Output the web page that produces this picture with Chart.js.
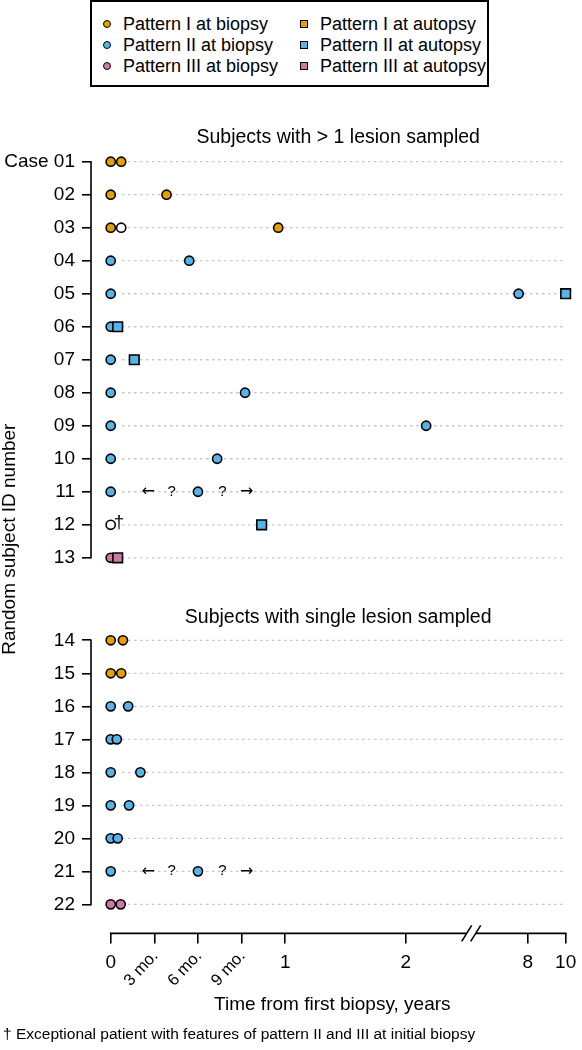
<!DOCTYPE html>
<html>
<head>
<meta charset="utf-8">
<title>Lesion patterns by subject</title>
<script src="https://cdn.jsdelivr.net/npm/chart.js@4.4.1/dist/chart.umd.min.js"></script>
<style>
  body { margin: 0; background: #fff; }
  #wrap { position: relative; width: 582px; height: 1050px; }
  #legend {
    position: absolute; left: 90px; top: 0; width: 399px; height: 87px;
    box-sizing: border-box; border: 2px solid #000; background: #fff;
    padding: 11.5px 0 0 11px;
    display: grid; grid-template-columns: 197px 1fr; grid-auto-rows: 21px;
    font: 18px "Liberation Sans", Arial, sans-serif; color: #000;
  }
  .item { display: flex; align-items: center; white-space: nowrap; }
  .mk { width: 6px; height: 6px; border: 1.2px solid #000; margin-right: 12px; }
  .mk.circle { border-radius: 50%; }
</style>
</head>
<body>
<div id="wrap">
  <canvas id="chart" width="582" height="1050"></canvas>
  <div id="legend"></div>
</div>
<script>
// ---- data ----
var caseLabels = ['Case 01', '02', '03', '04', '05', '06', '07', '08', '09', '10', '11',
                  '12', '13', '14', '15', '16', '17', '18', '19', '20', '21', '22'];
var multiLesionCases = [1, 2, 3, 4, 5, 6, 7, 8, 9, 10, 11, 12, 13];
var singleLesionCases = [14, 15, 16, 17, 18, 19, 20, 21, 22];

// time from first biopsy, in years
var p1BiopsyCase  = [1, 1, 2, 2, 3, 3, 14, 14, 15, 15];
var p1BiopsyYears = [0, 0.06, 0, 0.32, 0, 0.96, 0, 0.07, 0, 0.06];
var p1AutopsyCase  = [];
var p1AutopsyYears = [];
var p2BiopsyCase  = [4, 4, 5, 5, 6, 7, 8, 8, 9, 9, 10, 10, 11, 11,
                     16, 16, 17, 17, 18, 18, 19, 19, 20, 20, 21, 21];
var p2BiopsyYears = [0, 0.45, 0, 7.55, 0, 0, 0, 0.77, 0, 3.0, 0, 0.61, 0, 0.5,
                     0, 0.1, 0, 0.035, 0, 0.17, 0, 0.105, 0, 0.04, 0, 0.5];
var p2AutopsyCase  = [5, 6, 7, 12];
var p2AutopsyYears = [10, 0.04, 0.135, 0.865];
var p3BiopsyCase  = [13, 22, 22];
var p3BiopsyYears = [0, 0, 0.057];
var p3AutopsyCase  = [13];
var p3AutopsyYears = [0.04];
var openCase  = [3, 12];
var openYears = [0.06, 0];

var uncertainCases = [11, 21];
var uncertainMarks = ['\u2190', '?', '?', '\u2192'];
var uncertainMarkYears = [0.215, 0.35, 0.64, 0.78];
var daggerCase = 12;

var xTickYears  = [0, 0.25, 0.5, 0.75, 1, 2, 8, 10];
var xTickLabels = ['0', '3 mo.', '6 mo.', '9 mo.', '1', '2', '8', '10'];

// ---- broken time axis: piecewise linear between these anchors ----
var warpT = [0, 1, 2, 8, 10];
var warpU = [0, 1, 1.6914, 2.3903, 2.6074];
var BREAK_U = 2.066;

function warp(t) {
  if (t <= warpT[0]) return t;
  var i = 0;
  while (i < warpT.length - 2 && t > warpT[i + 1]) i++;
  var f = (t - warpT[i]) / (warpT[i + 1] - warpT[i]);
  return warpU[i] + f * (warpU[i + 1] - warpU[i]);
}
function unwarp(u) {
  if (u <= warpU[0]) return u;
  var i = 0;
  while (i < warpU.length - 2 && u > warpU[i + 1]) i++;
  var f = (u - warpU[i]) / (warpU[i + 1] - warpU[i]);
  return warpT[i] + f * (warpT[i + 1] - warpT[i]);
}

class BrokenScale extends Chart.LinearScale {
  getPixelForValue(value) {
    var a = warp(this.min), b = warp(this.max);
    return this.getPixelForDecimal((warp(value) - a) / (b - a));
  }
  getValueForPixel(pixel) {
    var a = warp(this.min), b = warp(this.max);
    return unwarp(a + this.getDecimalForPixel(pixel) * (b - a));
  }
}
BrokenScale.id = 'broken';
BrokenScale.defaults = Chart.LinearScale.defaults;
Chart.register(BrokenScale);

var PANEL_GAP = 1.5;
function rowPos(c) {
  return singleLesionCases.indexOf(c) >= 0 ? c + PANEL_GAP : c;
}
var allCases = multiLesionCases.concat(singleLesionCases);

function points(cases, years) {
  return cases.map(function(c, i) { return { x: years[i], y: rowPos(c) }; });
}

var orange = '#E69F00', blue = '#56B4E9', pink = '#CC79A7';

var datasets = [
  { label: 'Pattern I at biopsy',    data: points(p1BiopsyCase, p1BiopsyYears),   backgroundColor: orange, pointStyle: 'circle', pointRadius: 4.6, order: 2 },
  { label: 'Pattern I at autopsy',   data: points(p1AutopsyCase, p1AutopsyYears), backgroundColor: orange, pointStyle: 'rect',   pointRadius: 6.8, order: 1 },
  { label: 'Pattern II at biopsy',   data: points(p2BiopsyCase, p2BiopsyYears),   backgroundColor: blue,   pointStyle: 'circle', pointRadius: 4.6, order: 2 },
  { label: 'Pattern II at autopsy',  data: points(p2AutopsyCase, p2AutopsyYears), backgroundColor: blue,   pointStyle: 'rect',   pointRadius: 6.8, order: 1 },
  { label: 'Pattern III at biopsy',  data: points(p3BiopsyCase, p3BiopsyYears),   backgroundColor: pink,   pointStyle: 'circle', pointRadius: 4.6, order: 2 },
  { label: 'Pattern III at autopsy', data: points(p3AutopsyCase, p3AutopsyYears), backgroundColor: pink,   pointStyle: 'rect',   pointRadius: 6.8, order: 1 },
  { label: 'Unclassified',           data: points(openCase, openYears),           backgroundColor: '#fff', pointStyle: 'circle', pointRadius: 4.6, order: 2, hideInLegend: true }
];
datasets.forEach(function(d) {
  d.borderColor = '#000';
  d.borderWidth = 1.6;
  d.pointHoverRadius = d.pointRadius;
  d.clip = false;
});

var FONT = '"Liberation Sans", Arial, sans-serif';
var GUIDE_START = 0.065;

// dotted guides, detached axes, break mark, rotated month labels, panel titles
var decor = {
  id: 'decor',
  beforeDatasetsDraw: function(chart) {
    var ctx = chart.ctx, area = chart.chartArea, x = chart.scales.x, y = chart.scales.y;
    ctx.save();
    ctx.strokeStyle = '#c8c8c8';
    ctx.lineWidth = 1.3;
    ctx.setLineDash([2.5, 3.5]);
    allCases.forEach(function(c) {
      var py = y.getPixelForValue(rowPos(c));
      ctx.beginPath();
      ctx.moveTo(x.getPixelForValue(GUIDE_START), py);
      ctx.lineTo(x.getPixelForValue(10), py);
      ctx.stroke();
    });
    ctx.setLineDash([]);

    ctx.strokeStyle = '#000';
    ctx.lineWidth = 1.6;
    [multiLesionCases, singleLesionCases].forEach(function(panel) {
      ctx.beginPath();
      ctx.moveTo(area.left, y.getPixelForValue(rowPos(panel[0])) - 0.8);
      ctx.lineTo(area.left, y.getPixelForValue(rowPos(panel[panel.length - 1])) + 0.8);
      ctx.stroke();
    });

    var ay = area.bottom;
    var bx = x.getPixelForValue(unwarp(BREAK_U));
    ctx.beginPath();
    ctx.moveTo(x.getPixelForValue(0) - 0.8, ay);
    ctx.lineTo(bx - 4.5, ay);
    ctx.moveTo(bx + 4.5, ay);
    ctx.lineTo(x.getPixelForValue(10) + 0.8, ay);
    [-4.5, 4.5].forEach(function(dx) {
      ctx.moveTo(bx + dx - 5, ay + 8);
      ctx.lineTo(bx + dx + 5, ay - 8);
    });
    ctx.stroke();

    ctx.fillStyle = '#000';
    ctx.font = '16.5px ' + FONT;
    ctx.textAlign = 'right';
    ctx.textBaseline = 'middle';
    xTickLabels.forEach(function(lab, i) {
      if (lab.indexOf('mo.') < 0) return;
      ctx.save();
      ctx.translate(x.getPixelForValue(xTickYears[i]) + 1, ay + 20);
      ctx.rotate(-47 * Math.PI / 180);
      ctx.fillText(lab, 0, 0);
      ctx.restore();
    });

    ctx.font = '19.5px ' + FONT;
    ctx.textAlign = 'center';
    ctx.textBaseline = 'alphabetic';
    var cx = (x.getPixelForValue(0) + x.getPixelForValue(10)) / 2;
    ctx.fillText('Subjects with > 1 lesion sampled', cx, y.getPixelForValue(rowPos(multiLesionCases[0])) - 19);
    ctx.fillText('Subjects with single lesion sampled', cx, y.getPixelForValue(rowPos(singleLesionCases[0])) - 17.5);
    ctx.restore();
  },
  afterDatasetsDraw: function(chart) {
    var ctx = chart.ctx, x = chart.scales.x, y = chart.scales.y;
    ctx.save();
    ctx.fillStyle = '#000';
    ctx.textAlign = 'center';
    ctx.textBaseline = 'middle';
    uncertainCases.forEach(function(c) {
      var py = y.getPixelForValue(rowPos(c));
      uncertainMarks.forEach(function(m, i) {
        ctx.font = m === '?' ? '15px ' + FONT : '16px "DejaVu Sans", sans-serif';
        ctx.fillText(m, x.getPixelForValue(uncertainMarkYears[i]), py);
      });
    });
    ctx.font = '18px ' + FONT;
    ctx.fillText('\u2020', x.getPixelForValue(0.048), y.getPixelForValue(rowPos(daggerCase)) - 2);
    ctx.restore();
  }
};

Chart.defaults.font.family = FONT;
Chart.defaults.color = '#000';

new Chart(document.getElementById('chart'), {
  type: 'scatter',
  data: { datasets: datasets },
  options: {
    responsive: false,
    animation: false,
    devicePixelRatio: 1,
    layout: { padding: { top: 145, left: 3, right: 7, bottom: 6 } },
    plugins: {
      legend: { display: false },
      tooltip: { enabled: false },
      title: {
        display: true,
        position: 'bottom',
        align: 'start',
        text: '\u2020 Exceptional patient with features of pattern II and III at initial biopsy',
        font: { size: 15.5, weight: 'normal' },
        color: '#000',
        padding: 0
      }
    },
    scales: {
      x: {
        type: 'broken',
        min: -0.113,
        max: 10.42,
        afterBuildTicks: function(s) { s.ticks = xTickYears.map(function(v) { return { value: v }; }); },
        afterFit: function(s) { s.height = 92; s.paddingLeft = 0; s.paddingRight = 0; },
        border: { display: false },
        grid: { drawOnChartArea: false, drawTicks: true, tickLength: 10, color: '#000', lineWidth: 1.6 },
        ticks: {
          autoSkip: false, maxRotation: 0, padding: 8,
          font: { size: 19 },
          callback: function(v, i) { return xTickLabels[i].indexOf('mo.') >= 0 ? '' : xTickLabels[i]; }
        },
        title: { display: true, text: 'Time from first biopsy, years', font: { size: 19 }, padding: { top: 0, bottom: 9 } }
      },
      y: {
        type: 'linear',
        reverse: true,
        min: 0.494,
        max: 24.38,
        afterBuildTicks: function(s) { s.ticks = allCases.map(function(c) { return { value: rowPos(c) }; }); },
        afterFit: function(s) { s.width = 88; s.paddingTop = 0; s.paddingBottom = 0; },
        border: { display: false },
        grid: { drawOnChartArea: false, drawTicks: true, tickLength: 9, color: '#000', lineWidth: 1.6 },
        ticks: {
          autoSkip: false, padding: 7,
          font: { size: 19 },
          callback: function(v, i) { return caseLabels[allCases[i] - 1]; }
        },
        title: { display: true, text: 'Random subject ID number', font: { size: 19, lineHeight: 1 }, padding: { top: -2.5, bottom: 0 } }
      }
    }
  },
  plugins: [decor]
});

// legend box built from the datasets
var legendEl = document.getElementById('legend');
datasets.forEach(function(d) {
  if (d.hideInLegend) return;
  var item = document.createElement('div');
  item.className = 'item';
  var mk = document.createElement('span');
  mk.className = 'mk' + (d.pointStyle === 'circle' ? ' circle' : '');
  mk.style.background = d.backgroundColor;
  item.appendChild(mk);
  item.appendChild(document.createTextNode(d.label));
  legendEl.appendChild(item);
});
</script>
</body>
</html>
